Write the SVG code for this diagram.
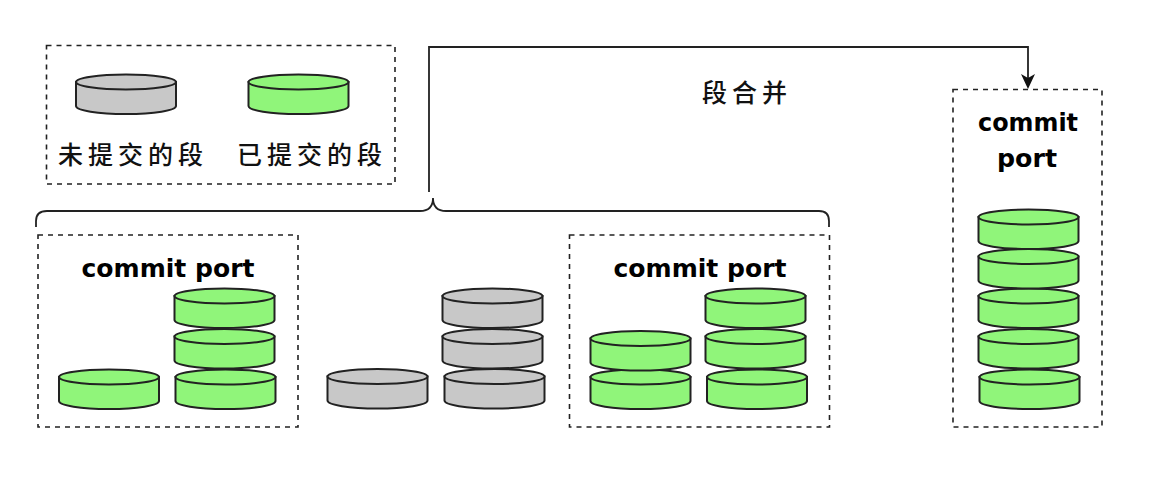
<svg xmlns="http://www.w3.org/2000/svg" xmlns:xlink="http://www.w3.org/1999/xlink" width="1156" height="478" viewBox="0 0 1156 478">
<style>
.box{fill:none;stroke:#222;stroke-width:1.6;stroke-dasharray:5 5}
.line{fill:none;stroke:#222;stroke-width:1.8}
.en{font-family:"DejaVu Sans",sans-serif;font-weight:700;font-size:25px;fill:#000;text-anchor:middle}
.cn{font-family:"Noto Sans CJK SC",sans-serif;font-size:25px;font-weight:500;fill:#111;letter-spacing:5px}
.c path,.c ellipse{stroke:#222;stroke-width:2}
.green{fill:#90f57a}
.gray{fill:#c8c8c8}
</style>
<defs>
<g id="cyl" class="c">
<path d="M0 7.500V31.500C0 36 22 39.500 50 39.500S100 36 100 31.500V7.500Z"/>
<ellipse cx="50" cy="7.500" rx="50" ry="7.500"/>
</g>
<marker id="arrow" markerWidth="18" markerHeight="18" refX="13" refY="8" orient="auto" markerUnits="userSpaceOnUse">
<path d="M0 1L15 8L0 15L4 8Z" fill="#111"/>
</marker>
</defs>
<rect width="1156" height="478" fill="#fff"/>
<g id="connectors">
<path class="line" d="M429 192V47H1028V87" marker-end="url(#arrow)"/>
<path class="line" d="M36 227V221Q36 211 47 211H420Q433 211 433 198Q433 211 446 211H819Q829 211 829 221V227"/>
</g>
<g id="legend">
<rect class="box" x="46.500" y="45.500" width="348.500" height="138.500"/>
<use href="#cyl" x="76" y="74.500" class="gray"/>
<use href="#cyl" x="248.500" y="74.500" class="green"/>
<text class="cn" x="58" y="164">未提交的段</text>
<text class="cn" x="237" y="164">已提交的段</text>
</g>
<g id="merge-label"><text class="cn" x="702" y="102">段合并</text></g>
<g id="port-left">
<rect class="box" x="38" y="235" width="260" height="192"/>
<text class="en" x="168" y="277" textLength="173" lengthAdjust="spacingAndGlyphs">commit port</text>
<use href="#cyl" x="59" y="369.500" class="green"/>
<use href="#cyl" x="175.500" y="369.500" class="green"/>
<use href="#cyl" x="174.500" y="329" class="green"/>
<use href="#cyl" x="174.500" y="288.500" class="green"/>
</g>
<g id="uncommitted">
<use href="#cyl" x="327.500" y="369" class="gray"/>
<use href="#cyl" x="444.500" y="369" class="gray"/>
<use href="#cyl" x="442.500" y="329" class="gray"/>
<use href="#cyl" x="442.500" y="288.500" class="gray"/>
</g>
<g id="port-right">
<rect class="box" x="569.500" y="235" width="260" height="192"/>
<text class="en" x="700" y="277" textLength="173" lengthAdjust="spacingAndGlyphs">commit port</text>
<use href="#cyl" x="590.500" y="369.500" class="green"/>
<use href="#cyl" x="590.500" y="331" class="green"/>
<use href="#cyl" x="707" y="369.500" class="green"/>
<use href="#cyl" x="705.500" y="329" class="green"/>
<use href="#cyl" x="705.500" y="288.500" class="green"/>
</g>
<g id="port-merged">
<rect class="box" x="953" y="89.500" width="149" height="337.500"/>
<text class="en" x="1028" y="131" textLength="100" lengthAdjust="spacingAndGlyphs">commit</text>
<text class="en" x="1027" y="167" textLength="60" lengthAdjust="spacingAndGlyphs">port</text>
<use href="#cyl" x="979.500" y="369.500" class="green"/>
<use href="#cyl" x="978.500" y="329" class="green"/>
<use href="#cyl" x="978.500" y="288.500" class="green"/>
<use href="#cyl" x="978.500" y="249" class="green"/>
<use href="#cyl" x="978.500" y="209.500" class="green"/>
</g>
</svg>
